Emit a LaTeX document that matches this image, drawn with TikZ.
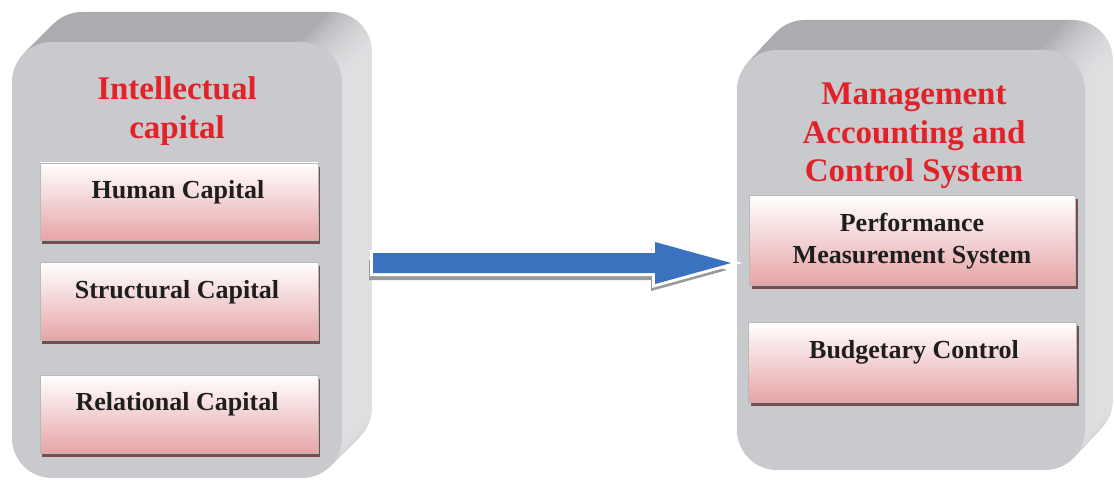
\documentclass[tikz,border=0pt]{standalone}
\usepackage{fontspec}
\setmainfont{Liberation Serif}
\usetikzlibrary{calc,shadows}
\definecolor{frontg}{RGB}{200,202,205}
\definecolor{exA}{RGB}{170,172,175}
\definecolor{exB}{RGB}{222,224,226}
\definecolor{pinkB}{RGB}{230,165,168}
\definecolor{boxshadow}{RGB}{118,78,80}
\definecolor{titlered}{RGB}{226,34,40}
\definecolor{arrowblue}{RGB}{58,114,192}
\definecolor{txt}{RGB}{30,30,30}
\pgfdeclarehorizontalshading{extr}{100bp}{color(0bp)=(exA); color(25bp)=(exA); color(68bp)=(exA); color(75bp)=(exB); color(100bp)=(exB)}
\tikzset{
  slice/.style={rectangle, rounded corners=40pt, draw=none, shading=extr, inner sep=0pt},
  front/.style={rectangle, rounded corners=40pt, fill=frontg, draw=none, inner sep=0pt},
  ibox/.style={rectangle, draw=gray!55, line width=0.8pt, top color=white, bottom color=pinkB,
    general shadow={fill=boxshadow, shadow xshift=2pt, shadow yshift=-4pt}, inner sep=0pt},
  itext/.style={font=\fontsize{26}{32}\selectfont\bfseries, text=txt, align=center, inner sep=0pt},
  ttext/.style={font=\fontsize{33}{38.5}\selectfont\bfseries, text=titlered, align=center, inner sep=0pt},
  arrowshadow/.style={fill=gray!80, draw=none},
  arrowoutline/.style={fill=white, draw=white, line width=6pt, line join=miter},
  arrowbody/.style={fill=arrowblue, draw=none}
}
\begin{document}
\begin{tikzpicture}[x=1pt,y=-1pt]
\useasboundingbox (0,0) rectangle (1114,484);
% left 3D box
\foreach \i in {30,29,...,1}
  \node[slice, minimum width=330pt, minimum height=436pt] at ({177+\i},{260-\i}) {};
\node[front, minimum width=330pt, minimum height=436pt] (L) at (177,260) {};
% right 3D box
\foreach \i in {30,29,...,1}
  \node[slice, minimum width=348pt, minimum height=420pt] at ({911+0.93*\i},{260-\i}) {};
\node[front, minimum width=348pt, minimum height=420pt] (R) at (911,260) {};

% titles
\node[ttext] (Ltitle) at (177,111) {Intellectual\\capital};
\node[ttext] (Rtitle) at (914,136) {Management\\Accounting and\\Control System};

% inner boxes left
\node[ibox, minimum width=278pt, minimum height=77pt] (hc) at (179,201.5) {};
\node[ibox, minimum width=278pt, minimum height=78pt] (sc) at (179,301) {};
\node[ibox, minimum width=278pt, minimum height=78pt] (rc) at (179,414) {};
\node[itext, anchor=base] (hct) at (178,198) {Human Capital};
\node[itext, anchor=base] (sct) at (177,298) {Structural Capital};
\node[itext, anchor=base] (rct) at (177,410) {Relational Capital};

% inner boxes right
\node[ibox, minimum width=326pt, minimum height=90pt] (pm) at (912.5,240) {};
\node[ibox, minimum width=328pt, minimum height=80pt] (bc) at (912.5,362) {};
\node[itext] (pmt) at (912,241) {Performance\\Measurement System};
\node[itext, anchor=base] (bct) at (914,358) {Budgetary Control};

% fat arrow
\coordinate (as) at (373,263);
\coordinate (at) at ([xshift=-18pt]pm.west |- as);
\begin{scope}[transform canvas={xshift=-4pt,yshift=-7pt}]
\draw[arrowshadow] let \p1=(as), \p2=(at) in
  (\x1,\y1+10pt) -- (\x2-76pt,\y1+10pt) -- (\x2-76pt,\y1+21pt) -- (\x2,\y1)
  -- (\x2-76pt,\y1-21pt) -- (\x2-76pt,\y1-10pt) -- (\x1,\y1-10pt) -- cycle;
\end{scope}
\draw[arrowoutline] let \p1=(as), \p2=(at) in
  (\x1,\y1+10pt) -- (\x2-76pt,\y1+10pt) -- (\x2-76pt,\y1+21pt) -- (\x2,\y1)
  -- (\x2-76pt,\y1-21pt) -- (\x2-76pt,\y1-10pt) -- (\x1,\y1-10pt) -- cycle;
\draw[arrowbody] let \p1=(as), \p2=(at) in
  (\x1,\y1+10pt) -- (\x2-76pt,\y1+10pt) -- (\x2-76pt,\y1+21pt) -- (\x2,\y1)
  -- (\x2-76pt,\y1-21pt) -- (\x2-76pt,\y1-10pt) -- (\x1,\y1-10pt) -- cycle;
\end{tikzpicture}
\end{document}
